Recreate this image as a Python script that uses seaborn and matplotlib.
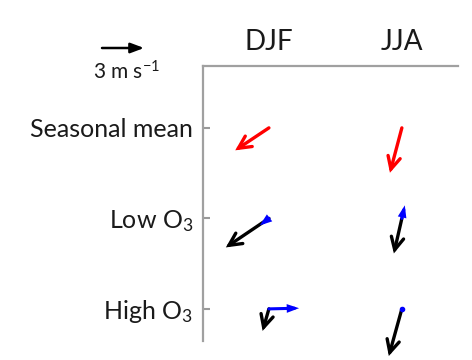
import matplotlib
matplotlib.use("Agg")
import matplotlib.pyplot as plt
from matplotlib.transforms import offset_copy
import seaborn as sns

# Seasons (columns) and composite rows
seasons = ["DJF", "JJA"]
rows = ["Seasonal mean", "Low O$_3$", "High O$_3$"]

# Wind vectors (m s-1): u eastward, v northward
mean_u = [-2.4, -0.85]
mean_v = [-1.6, -3.2]

low_total_u = [-3.07, -0.57]
low_total_v = [-2.07, -2.5]
low_anom_u = [-0.65, 0.21]
low_anom_v = [-0.5, 0.93]

high_total_u = [-0.45, -0.93]
high_total_v = [-1.57, -3.36]
high_anom_u = [2.15, 0.0]
high_anom_v = [0.05, 0.03]

key_speed = 3  # reference arrow, m s-1

sns.set_theme(style="white")
plt.rcParams["font.family"] = ["Lato", "DejaVu Sans"]
plt.rcParams["mathtext.default"] = "regular"

PT_PER_MS = 10.1  # arrow length in points per m s-1

fig = plt.figure(figsize=(4.72, 3.6), dpi=100)
ax = fig.add_axes([0.430, 0.053, 0.540, 0.764])

ax.set_xlim(-0.496, 1.421)
ax.set_ylim(2.354, -0.685)


def arrow(x0, y0, u, v, color, lw=2.4, style="->,head_length=0.9,head_width=0.45", ms=10):
    head = offset_copy(ax.transData, fig=fig, x=u * PT_PER_MS, y=v * PT_PER_MS, units="points")
    ax.annotate("", xy=(x0, y0), xycoords=head, xytext=(x0, y0), textcoords="data",
                arrowprops=dict(arrowstyle=style, color=color, lw=lw,
                                shrinkA=0, shrinkB=0, mutation_scale=ms,
                                capstyle="round", joinstyle="miter"),
                annotation_clip=False)


ANOM_STYLE = "-|>,head_length=0.45,head_width=0.16"

for i, s in enumerate(seasons):
    # seasonal mean flow
    arrow(i, 0, mean_u[i], mean_v[i], "#ff0000")
    # low-ozone composite: total flow and anomaly
    arrow(i, 1, low_total_u[i], low_total_v[i], "black")
    arrow(i, 1, low_anom_u[i], low_anom_v[i], "#0000ff", lw=2.2, style=ANOM_STYLE)
    # high-ozone composite: total flow and anomaly
    arrow(i, 2, high_total_u[i], high_total_v[i], "black")
    if abs(high_anom_u[i]) + abs(high_anom_v[i]) > 0.3:
        arrow(i, 2, high_anom_u[i], high_anom_v[i], "#0000ff", lw=2.2, style=ANOM_STYLE)
    else:
        ax.plot([i], [2], marker="o", ms=3, color="#0000ff", zorder=5)

ax.set_xticks(range(len(seasons)))
ax.set_xticklabels(seasons, fontsize=20, color="#1a1a1a")
ax.set_yticks(range(len(rows)))
ax.set_yticklabels(rows, fontsize=18, color="#1a1a1a")
ax.xaxis.tick_top()
ax.tick_params(axis="both", direction="in", length=5, width=1.5, color="#999999",
               left=True, top=True, bottom=False, right=False)
ax.tick_params(axis="x", pad=8)
ax.tick_params(axis="y", pad=7)

sns.despine(ax=ax, top=False, right=True, bottom=True, left=False)
for side in ("top", "left"):
    ax.spines[side].set_color("#a0a0a0")
    ax.spines[side].set_linewidth(1.6)

# scale key
key_tail = (102 / 472, 1 - 48 / 360)
key_head = offset_copy(fig.transFigure, fig=fig, x=key_speed * PT_PER_MS, y=0, units="points")
ax.annotate("", xy=key_tail, xycoords=key_head, xytext=key_tail, textcoords="figure fraction",
            arrowprops=dict(arrowstyle="-|>,head_length=0.8,head_width=0.3", color="black",
                            lw=1.8, shrinkA=0, shrinkB=0, mutation_scale=10),
            annotation_clip=False)
fig.text(127 / 472, 1 - 72 / 360, f"{key_speed} m s$^{{-1}}$", fontsize=15,
         ha="center", va="center", color="#1a1a1a")

fig.savefig("out.png", dpi=100)
